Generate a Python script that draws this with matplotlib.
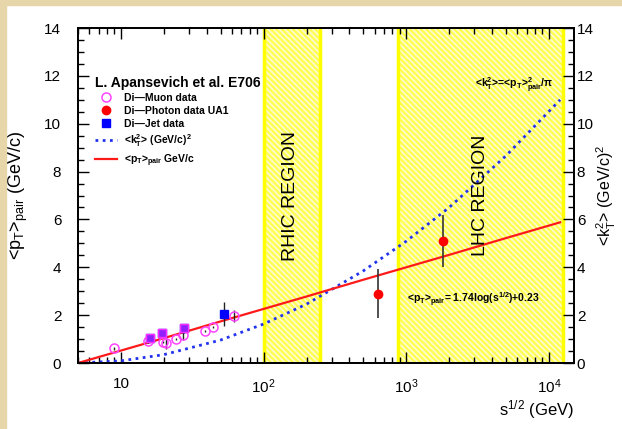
import matplotlib

matplotlib.use("Agg")
import matplotlib.pyplot as plt
from matplotlib.ticker import FixedLocator, FixedFormatter, LogLocator, NullFormatter, MultipleLocator
import numpy as np

plt.rcParams["font.family"] = ["Liberation Sans", "DejaVu Sans"]
plt.rcParams["mathtext.fontset"] = "custom"
plt.rcParams["mathtext.rm"] = "Liberation Sans"
plt.rcParams["mathtext.it"] = "Liberation Sans:italic"
plt.rcParams["mathtext.bf"] = "Liberation Sans:bold"
plt.rcParams["mathtext.default"] = "regular"
plt.rcParams["hatch.linewidth"] = 1.2

# Di-Muon data (E706)
muon_x = [9, 15.4, 19.8, 20.6, 24.3, 27.4, 39, 44, 62]
muon_y = [0.61, 0.90, 0.89, 0.82, 1.00, 1.18, 1.35, 1.50, 1.95]
muon_err = [0.05, 0.05, 0.05, 0.25, 0.05, 0.2, 0.05, 0.05, 0.25]

# Di-Photon data UA1
photon_x = [630, 1800]
photon_y = [2.90, 5.10]
photon_err = [1.03, 1.10]

# Di-Jet data
jet_x = [16, 19.4, 27.7, 52.8]
jet_y = [1.06, 1.24, 1.45, 2.05]
jet_err = [0.10, 0.15, 0.20, 0.50]

# fit curves
fit_x = [5, 10, 20, 50, 100, 200, 500, 1000, 2000, 5000, 12000]
pt_pair = [0.0, 0.52, 1.04, 1.74, 2.26, 2.78, 3.48, 4.00, 4.52, 5.22, 5.88]
kt2 = [0.0, 0.09, 0.35, 0.96, 1.63, 2.46, 3.85, 5.09, 6.50, 8.66, 11.0]

rhic_region = (100, 250)
lhc_region = (880, 12500)

xtick_vals = [10, 100, 1000, 10000]
xtick_labels = ["10", "$10^2$", "$10^3$", "$10^4$"]

fig = plt.figure(figsize=(6.22, 4.29), dpi=100)
fig.patch.set_facecolor("white")
# beige frame strips
fig.patches.append(plt.Rectangle((0, 0), 6 / 622, 1, transform=fig.transFigure, color="#e6d6aa", zorder=0))
fig.patches.append(plt.Rectangle((0, 1 - 5 / 429), 1, 5 / 429, transform=fig.transFigure, color="#e6d6aa", zorder=0))

ax = fig.add_axes([0.1254, 0.1538, 0.7974, 0.7809])
ax.set_xscale("log")
ax.set_xlim(5, 1.5e4)
ax.set_ylim(0, 14)

for lo, hi in (rhic_region, lhc_region):
    ax.axvspan(lo, hi, facecolor="#ffff50", edgecolor="#fffbd0", hatch="\\\\\\\\\\\\", linewidth=0, zorder=0)
    ax.axvline(lo, color="#ffff00", linewidth=2.5, zorder=1)
    ax.axvline(hi, color="#ffff00", linewidth=2.5, zorder=1)

ax.plot(fit_x, kt2, color="#2233ee", linestyle=(0, (1, 1.6)), linewidth=2.0, zorder=3,
        label=r"<k$_T^2$> (GeV/c)$^2$")
ax.plot(fit_x, pt_pair, color="#ff1a1a", linewidth=1.6, zorder=3,
        label=r"<p$_T$>$_{pair}$ GeV/c")

ax.errorbar(muon_x, muon_y, yerr=muon_err, fmt="none", ecolor="#222222", elinewidth=1.0, zorder=4)
ax.errorbar(jet_x, jet_y, yerr=jet_err, fmt="none", ecolor="#222222", elinewidth=1.0, zorder=4)
ax.errorbar(photon_x, photon_y, yerr=photon_err, fmt="none", ecolor="#333333", elinewidth=1.2, zorder=4)

h_jet, = ax.plot(jet_x, jet_y, "s", color="#0000ff", markersize=5.5, zorder=5, label="Di\u2014Jet data")
ax.plot(jet_x[:3], jet_y[:3], "s", color="#9020ff", markeredgecolor="#ff30ff", markersize=5.5, zorder=6)
h_mu, = ax.plot(muon_x, muon_y, "o", markerfacecolor="none", markeredgecolor="#ff44ff", markeredgewidth=1.1,
                markersize=6.5, zorder=5, label="Di\u2014Muon data")
h_ph, = ax.plot(photon_x, photon_y, "o", color="#ff0000", markersize=6, zorder=5, label="Di\u2014Photon data UA1")

handles, labels = ax.get_legend_handles_labels()
order = [labels.index(n) for n in ["Di\u2014Muon data", "Di\u2014Photon data UA1", "Di\u2014Jet data"]] + [0, 1]
leg = ax.legend([handles[i] for i in order], [labels[i] for i in order],
                loc="upper left", bbox_to_anchor=(0.025, 0.87), frameon=False,
                title="L. Apansevich et al. E706", alignment="left",
                prop={"size": 7.5, "weight": "bold"}, handlelength=2.2, handletextpad=0.6,
                labelspacing=0.3, borderaxespad=0)
leg.get_title().set_fontsize(10)
leg.get_title().set_fontweight("bold")

ax.text(155, 7.0, "RHIC REGION", rotation=90, ha="center", va="center", fontsize=14, zorder=6)
ax.text(3300, 7.0, "LHC REGION", rotation=90, ha="center", va="center", fontsize=14, zorder=6)
ax.text(10800, 11.6, r"<k$_T^2$>=<p$_T$>$^2_{pair}$/$\pi$", ha="right", va="center",
        fontsize=7.5, fontweight="bold", zorder=6)
ax.text(1010, 2.64, r"<p$_T$>$_{pair}$= 1.74log(s$^{1/2}$)+0.23", ha="left", va="center",
        fontsize=7.5, fontweight="bold", zorder=6)

ax.xaxis.set_major_locator(FixedLocator(xtick_vals))
ax.xaxis.set_major_formatter(FixedFormatter(xtick_labels))
ax.xaxis.set_minor_locator(LogLocator(base=10, subs=np.arange(2, 10)))
ax.xaxis.set_minor_formatter(NullFormatter())
ax.yaxis.set_major_locator(MultipleLocator(2))
ax.yaxis.set_minor_locator(MultipleLocator(0.5))
ax.tick_params(which="both", direction="in", top=True, right=False, labelsize=11, width=1.0)
ax.tick_params(axis="x", which="major", length=8, pad=10)
ax.tick_params(axis="y", which="major", length=8, pad=12)
ax.tick_params(which="minor", length=4)

ax.set_ylabel(r"<p$_T$>$_{pair}$ (GeV/c)", fontsize=13, labelpad=10)
ax.set_xlabel(r"s$^{1/2}$ (GeV)", fontsize=12, loc="right", labelpad=2)

ax2 = ax.twinx()
ax2.set_ylim(0, 14)
ax2.yaxis.set_major_locator(MultipleLocator(2))
ax2.yaxis.set_minor_locator(MultipleLocator(0.5))
ax2.tick_params(which="both", direction="in", labelsize=11, width=1.0)
ax2.tick_params(which="major", length=8, pad=2)
ax2.tick_params(which="minor", length=4)
ax2.set_ylabel(r"<k$_T^2$> (GeV/c)$^2$", fontsize=11.5, labelpad=1)

for a in (ax, ax2):
    for s in a.spines.values():
        s.set_linewidth(1.3)

fig.savefig("out.png", dpi=100)
